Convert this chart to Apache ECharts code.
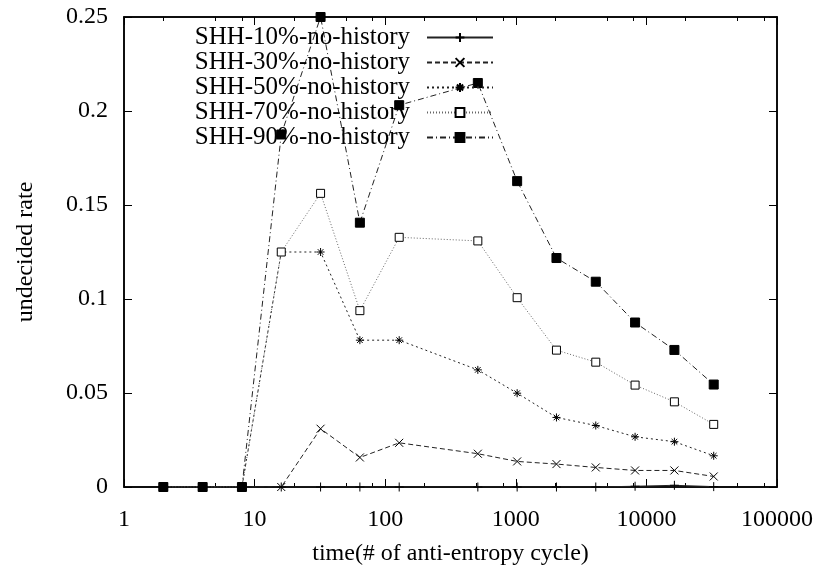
<!DOCTYPE html>
<html>
<head>
<meta charset="utf-8">
<script src="https://cdn.jsdelivr.net/npm/echarts@6/dist/echarts.min.js"></script>
<style>
  html, body { margin: 0; padding: 0; background: #fff; }
  #chart { width: 816px; height: 568px; }
</style>
</head>
<body>
<div id="chart"></div>
<script>
var cycles = [2, 4, 8, 16, 32, 64, 128, 512, 1024, 2048, 4096, 8192, 16384, 32768];
var shh10 = [0, 0, 0, 0, 0, 0, 0, 0, 0, 0, 0, 0.0004, 0.0009, 0.0002];
var shh30 = [0, 0, 0, 0, 0.031, 0.0157, 0.0235, 0.0177, 0.0136, 0.0122, 0.0104, 0.0088, 0.0088, 0.0056];
var shh50 = [0, 0, 0, 0.125, 0.125, 0.0781, 0.0781, 0.0623, 0.0499, 0.037, 0.0327, 0.0267, 0.0241, 0.0166];
var shh70 = [0, 0, 0, 0.125, 0.1562, 0.0938, 0.1328, 0.1309, 0.1007, 0.0728, 0.0664, 0.0542, 0.0453, 0.0333];
var shh90 = [0, 0, 0, 0.1875, 0.25, 0.1406, 0.2031, 0.2149, 0.1627, 0.1218, 0.1092, 0.0875, 0.0729, 0.0545];
var names = ['SHH-10%-no-history', 'SHH-30%-no-history', 'SHH-50%-no-history', 'SHH-70%-no-history', 'SHH-90%-no-history'];
var majorTicks = [1, 10, 100, 1000, 10000, 100000];
var minorTicks = [2, 5, 8, 20, 50, 80, 200, 500, 800, 2000, 5000, 8000, 20000, 50000, 80000];

var font = "'Liberation Serif', 'Times New Roman', serif";

function pairs(ys) {
    return cycles.map(function (x, i) { return [x, ys[i]]; });
}

var plus = 'path://M0,5L10,5M5,0L5,10';
var cross = 'path://M0,0L10,10M10,0L0,10';
var star = 'path://M0,5L10,5M5,0L5,10M1.5,1.5L8.5,8.5M8.5,1.5L1.5,8.5';

function mkSeries(name, ys, symbol, size, dash, lineColor, fill) {
    return {
        name: name,
        type: 'line',
        data: pairs(ys),
        symbol: symbol,
        symbolSize: size,
        showAllSymbol: true,
        animation: false,
        lineStyle: { color: lineColor, width: 1, type: dash },
        itemStyle: { color: fill, borderColor: '#000', borderWidth: 1 },
        emphasis: { disabled: true }
    };
}

function xAxisDef(pos, ticks, len, labels) {
    return {
        type: 'log', logBase: 10, min: 1, max: 100000, position: pos,
        axisLine: { show: labels, lineStyle: { color: '#000', width: 1.5 } },
        axisTick: { show: true, inside: true, length: len, customValues: ticks, lineStyle: { color: '#000' } },
        axisLabel: { show: labels, customValues: majorTicks, margin: 21, color: '#000', fontFamily: font, fontSize: 24,
            formatter: function (v) { return String(Math.round(v)); } },
        splitLine: { show: false }
    };
}

var chart = echarts.init(document.getElementById('chart'));
var xa = [
    xAxisDef('bottom', majorTicks, 8, true),
    xAxisDef('bottom', minorTicks, 4, false),
    xAxisDef('top', majorTicks, 8, false),
    xAxisDef('top', minorTicks, 4, false)
];
xa[0].name = 'time(# of anti-entropy cycle)';
xa[0].nameLocation = 'middle';
xa[0].nameGap = 55;
xa[0].nameTextStyle = { color: '#000', fontFamily: font, fontSize: 24 };
xa[2].axisLine.show = true;

chart.setOption({
    backgroundColor: '#fff',
    animation: false,
    grid: { left: 124, right: 39, top: 17, bottom: 81, show: true, borderColor: '#000', borderWidth: 1.5,
        outerBoundsMode: 'none' },
    legend: {
        orient: 'vertical', right: 317, top: 20, align: 'right',
        itemWidth: 66, itemHeight: 11, itemGap: 0,
        textStyle: { color: '#000', fontFamily: font, fontSize: 25, lineHeight: 25, padding: [0, 12, 0, 0] },
        data: names
    },
    xAxis: xa,
    yAxis: [{
        type: 'value', min: 0, max: 0.25, interval: 0.05, position: 'left',
        name: 'undecided rate', nameLocation: 'middle', nameRotate: 90, nameGap: 86,
        nameTextStyle: { color: '#000', fontFamily: font, fontSize: 24 },
        axisLine: { show: true, lineStyle: { color: '#000', width: 1.5 } },
        axisTick: { show: true, inside: true, length: 8, lineStyle: { color: '#000' } },
        axisLabel: { margin: 16, color: '#000', fontFamily: font, fontSize: 24 },
        splitLine: { show: false }
    }, {
        type: 'value', min: 0, max: 0.25, interval: 0.05, position: 'right',
        axisLine: { show: true, lineStyle: { color: '#000', width: 1.5 } },
        axisTick: { show: true, inside: true, length: 8, lineStyle: { color: '#000' } },
        axisLabel: { show: false },
        splitLine: { show: false }
    }],
    series: [
        mkSeries(names[0], shh10, plus, 9, 'solid', '#222', '#000'),
        mkSeries(names[1], shh30, cross, 8, [5, 3], '#222', '#000'),
        mkSeries(names[2], shh50, star, 8, [2, 3], '#222', '#000'),
        mkSeries(names[3], shh70, 'rect', 8, [1, 2], '#666', '#fff'),
        mkSeries(names[4], shh90, 'rect', 9, [6, 3, 1, 3], '#222', '#000')
    ]
});
</script>
</body>
</html>
